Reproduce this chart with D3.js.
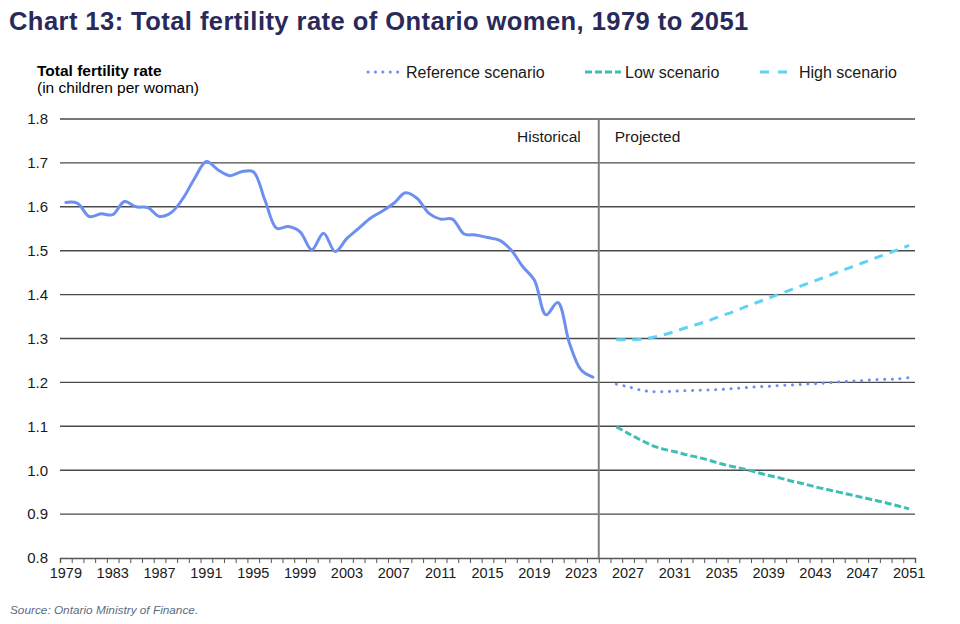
<!DOCTYPE html>
<html>
<head>
<meta charset="utf-8">
<script src="https://cdn.jsdelivr.net/npm/d3@7"></script>
<style>
    body { margin: 0; background: #fff; font-family: "Liberation Sans", Arial, sans-serif; }
    .title { font-size: 25.5px; font-weight: bold; fill: #29295a; letter-spacing: 0.45px; }
    .ytitle { font-size: 15.5px; fill: #000; }
    .legend { font-size: 16px; fill: #1a1a1a; }
    .note { font-size: 15.5px; fill: #1a1a1a; }
    .tick text { font-family: "Liberation Sans", Arial, sans-serif; fill: #1a1a1a; }
    .source { font-size: 11.8px; font-style: italic; fill: #5b6b82; }
</style>
</head>
<body>
<div id="chart"></div>
<script>
// Data
let years = d3.range(1979, 2052);
let histYears = d3.range(1979, 2025);
let histValues = [1.610, 1.608, 1.578, 1.584, 1.582, 1.612, 1.600, 1.598, 1.578, 1.587,
    1.619, 1.665, 1.703, 1.684, 1.671, 1.680, 1.680, 1.615, 1.551, 1.555,
    1.543, 1.502, 1.540, 1.498, 1.528, 1.551, 1.574, 1.590, 1.608, 1.632,
    1.619, 1.585, 1.572, 1.572, 1.538, 1.536, 1.530, 1.524, 1.502, 1.464,
    1.433, 1.354, 1.382, 1.289, 1.228, 1.212];
let projYears = d3.range(2026, 2052);
let refValues = [1.196, 1.190, 1.183, 1.179, 1.179, 1.180, 1.181, 1.182, 1.183, 1.184,
    1.186, 1.188, 1.190, 1.191, 1.193, 1.194, 1.196, 1.197, 1.199, 1.201,
    1.203, 1.204, 1.206, 1.207, 1.208, 1.211];
let lowValues = [1.099, 1.084, 1.070, 1.057, 1.048, 1.042, 1.035, 1.029, 1.022, 1.014,
    1.008, 1.002, 0.995, 0.988, 0.982, 0.975, 0.969, 0.962, 0.956, 0.950,
    0.944, 0.938, 0.932, 0.926, 0.919, 0.912];
let highValues = [1.297, 1.297, 1.298, 1.302, 1.308, 1.316, 1.325, 1.333, 1.342, 1.352,
    1.361, 1.372, 1.382, 1.392, 1.402, 1.412, 1.422, 1.432, 1.442, 1.452,
    1.462, 1.472, 1.482, 1.492, 1.502, 1.512];
let yTicks = [0.8, 0.9, 1.0, 1.1, 1.2, 1.3, 1.4, 1.5, 1.6, 1.7, 1.8];
let xLabelYears = d3.range(1979, 2052, 4);
let dividerYear = 2025;

function initChart() {
    const width = 960, height = 624;
    const left = 60, right = 915, top = 119, bottom = 558;

    let svg = d3.select('#chart').append('svg')
        .attr('width', width)
        .attr('height', height);

    let x = d3.scaleBand().domain(years).range([left, right]).padding(0);
    let xEdge = d3.scaleLinear().domain([1979, 2052]).range([left, right]);
    let y = d3.scaleLinear().domain([0.8, 1.8]).range([bottom, top]);
    let cx = d => x(d) + x.bandwidth() / 2;

    svg.append('text')
        .attr('class', 'title')
        .attr('x', 9)
        .attr('y', 30)
        .text('Chart 13: Total fertility rate of Ontario women, 1979 to 2051');

    svg.append('text')
        .attr('class', 'ytitle')
        .attr('x', 37)
        .attr('y', 76)
        .style('font-weight', 'bold')
        .text('Total fertility rate');
    svg.append('text')
        .attr('class', 'ytitle')
        .attr('x', 37)
        .attr('y', 93)
        .text('(in children per woman)');

    // gridlines
    svg.append('g')
        .selectAll('line')
        .data(yTicks.slice(1))
        .enter().append('line')
        .attr('x1', left)
        .attr('x2', right)
        .attr('y1', d => y(d))
        .attr('y2', d => y(d))
        .attr('stroke', '#4a4a4a')
        .attr('stroke-width', 1.4);

    // y labels
    let yAxis = svg.append('g')
        .attr('transform', `translate(${left},0)`)
        .call(d3.axisLeft(y).tickValues(yTicks).tickFormat(d3.format('.1f')).tickSize(0).tickPadding(12));
    yAxis.select('.domain').remove();
    yAxis.selectAll('text').style('font-size', '15px');

    // bottom axis: boundary ticks
    let edgeAxis = svg.append('g')
        .attr('transform', `translate(0,${bottom})`)
        .call(d3.axisBottom(xEdge).tickValues(d3.range(1979, 2053)).tickFormat('').tickSize(5));
    edgeAxis.select('.domain').attr('stroke', '#555').attr('stroke-width', 1.4);
    edgeAxis.selectAll('.tick line').attr('stroke', '#555');

    // bottom axis: year labels
    let labelAxis = svg.append('g')
        .attr('transform', `translate(0,${bottom})`)
        .call(d3.axisBottom(x).tickValues(xLabelYears).tickSize(0).tickPadding(10));
    labelAxis.select('.domain').remove();
    labelAxis.selectAll('text').style('font-size', '14.5px');

    // divider
    svg.append('line')
        .attr('x1', x(dividerYear))
        .attr('x2', x(dividerYear))
        .attr('y1', top)
        .attr('y2', bottom)
        .attr('stroke', '#808080')
        .attr('stroke-width', 2);

    svg.append('text')
        .attr('class', 'note')
        .attr('x', x(dividerYear) - 18)
        .attr('y', 142)
        .attr('text-anchor', 'end')
        .text('Historical');
    svg.append('text')
        .attr('class', 'note')
        .attr('x', x(dividerYear) + 16)
        .attr('y', 142)
        .text('Projected');

    let line = d3.line()
        .x(d => cx(d[0]))
        .y(d => y(d[1]))
        .curve(d3.curveCatmullRom.alpha(0.5));

    let series = [
        {name: 'Low scenario', years: projYears, values: lowValues, color: '#3dbfb3', dash: '7 3', cap: 'butt'},
        {name: 'High scenario', years: projYears, values: highValues, color: '#5fd2f5', dash: '9 7', cap: 'butt'},
        {name: 'Reference scenario', years: projYears, values: refValues, color: '#6d8ff0', dash: '0.1 7.6', cap: 'round'}
    ];

    series.forEach(s => {
        svg.append('path')
            .datum(s.years.map((yr, i) => [yr, s.values[i]]))
            .attr('d', line)
            .attr('fill', 'none')
            .attr('stroke', s.color)
            .attr('stroke-width', 3)
            .attr('stroke-linecap', s.cap)
            .attr('stroke-dasharray', s.dash);
    });

    svg.append('path')
        .datum(histYears.map((yr, i) => [yr, histValues[i]]))
        .attr('d', line)
        .attr('fill', 'none')
        .attr('stroke', '#6d8ff0')
        .attr('stroke-width', 3)
        .attr('stroke-linecap', 'round');

    // legend
    let legendItems = [
        {s: series[2], x1: 368, x2: 400, tx: 406, dash: '0.1 7.3'},
        {s: series[0], x1: 585, x2: 621, tx: 625, dash: '7 3'},
        {s: series[1], x1: 760, x2: 790, tx: 799, dash: '9 9'}
    ];
    legendItems.forEach(l => {
        svg.append('line')
            .attr('x1', l.x1)
            .attr('x2', l.x2)
            .attr('y1', 72)
            .attr('y2', 72)
            .attr('stroke', l.s.color)
            .attr('stroke-width', 3)
            .attr('stroke-linecap', l.s.cap)
            .attr('stroke-dasharray', l.dash);
        svg.append('text')
            .attr('class', 'legend')
            .attr('x', l.tx)
            .attr('y', 78)
            .text(l.s.name);
    });

    svg.append('text')
        .attr('class', 'source')
        .attr('x', 10)
        .attr('y', 614)
        .text('Source: Ontario Ministry of Finance.');
}

initChart();
</script>
</body>
</html>
